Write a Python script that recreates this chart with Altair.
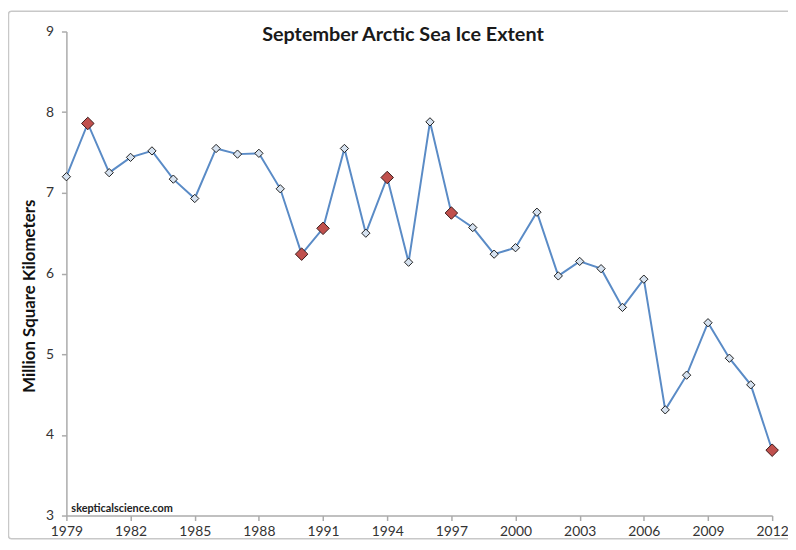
import altair as alt
import pandas as pd

years = list(range(1979, 2013))
extent = [7.20, 7.86, 7.25, 7.44, 7.52, 7.17, 6.93, 7.55, 7.48, 7.49,
          7.05, 6.24, 6.56, 7.55, 6.50, 7.19, 6.14, 7.88, 6.75, 6.57,
          6.24, 6.32, 6.76, 5.97, 6.15, 6.06, 5.58, 5.93, 4.31, 4.74,
          5.39, 4.95, 4.62, 3.81]
highlight_years = [1980, 1990, 1991, 1994, 1997, 2012]
x_ticks = list(range(1979, 2013, 3))
y_ticks = [3, 4, 5, 6, 7, 8, 9]

title_text = "September Arctic Sea Ice Extent"
y_title = "Million Square Kilometers"
watermark = "skepticalscience.com"

df = pd.DataFrame({"year": years, "extent": extent})
df["record"] = df["year"].isin(highlight_years)
df_normal = df[~df["record"]]
df_red = df[df["record"]]

FONT = "Lato"
W, H = 713, 489

x_enc = alt.X("year:Q", scale=alt.Scale(domain=[1979, 2012], nice=False, zero=False),
              axis=alt.Axis(values=x_ticks, format="d", title=None, grid=False,
                            labelFlush=False, labelOverlap=False,
                            tickSize=5, labelPadding=4))
y_enc = alt.Y("extent:Q", scale=alt.Scale(domain=[3, 9], nice=False, zero=False),
              axis=alt.Axis(values=y_ticks, title=y_title, grid=False,
                            labelFlush=False, labelOverlap=False,
                            tickSize=5, labelPadding=8, titlePadding=7,
                            titleY=267,
                            titleFont=FONT, titleFontSize=17, titleFontWeight="bold",
                            titleColor="#111111"))

line = alt.Chart(df).mark_line(color="#5a8bc6", strokeWidth=2).encode(x=x_enc, y=y_enc)

pts = alt.Chart(df_normal).mark_point(shape="diamond", filled=True, size=70,
                                      fill="#d6e2f0", stroke="#1e1e1e",
                                      strokeWidth=1, opacity=1).encode(x=x_enc, y=y_enc)

red = alt.Chart(df_red).mark_point(shape="diamond", filled=True, size=160,
                                   fill="#c0504d", stroke="#3a1a1a",
                                   strokeWidth=1, opacity=1).encode(x=x_enc, y=y_enc)

one = pd.DataFrame({"t": [title_text], "w": [watermark]})

border = alt.Chart(one).mark_rect(filled=False, stroke="#c8c8c8", strokeWidth=1.5,
                                  cornerRadius=3).encode(
    x=alt.value(-58.5), x2=alt.value(760), y=alt.value(-20.5), y2=alt.value(512.5))

title = alt.Chart(one).mark_text(font=FONT, fontSize=20, fontWeight="bold",
                                 color="#1a1a1a", baseline="middle", align="center").encode(
    x=alt.value(340), y=alt.value(4), text="t:N")

wm = alt.Chart(one).mark_text(font=FONT, fontSize=11, fontWeight="bold",
                              color="#222222", baseline="middle", align="left").encode(
    x=alt.value(5), y=alt.value(482), text="w:N")

chart = alt.layer(border, line, pts, red, title, wm).properties(
    width=W, height=H,
    autosize=alt.AutoSizeParams(type="none"),
    padding={"left": 59, "top": 21, "right": 16, "bottom": 24},
).configure_view(stroke=None).configure_axis(
    domainColor="#ababab", tickColor="#ababab", labelColor="#333333",
    labelFont=FONT, labelFontSize=14, domainWidth=1.5, tickWidth=1.5
)

chart.save("out.html", embed_options={"renderer": "svg", "actions": False})
